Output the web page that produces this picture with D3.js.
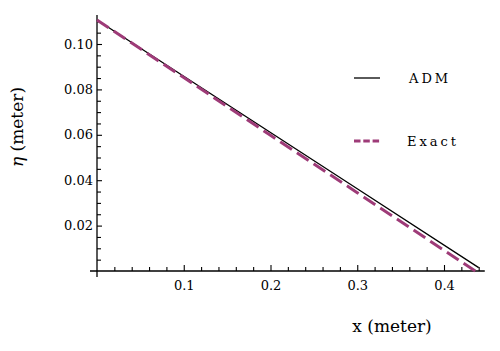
<!DOCTYPE html>
<html>
<head>
<meta charset="utf-8">
<script src="https://cdn.jsdelivr.net/npm/d3@7"></script>
<style>
  body { margin: 0; background: #fff; }
</style>
</head>
<body>
<div id="chart"></div>
<script>
// values
const admX = [0, 0.1, 0.2, 0.3, 0.44];
const admY = [0.1106, 0.0858, 0.061, 0.0362, 0.0015];
const exactX = [0, 0.1, 0.2, 0.3, 0.436];
const exactY = [0.1106, 0.0852, 0.0598, 0.0345, 0.0];
const xTicks = [0.1, 0.2, 0.3, 0.4];
const yTicks = [0.02, 0.04, 0.06, 0.08, 0.1];
const seriesNames = ["ADM", "Exact"];

// only DejaVu Serif shows up as a serif face in this renderer
const serif = "DejaVu Serif";
const width = 500, height = 351;
const svg = d3.select("#chart").append("svg")
  .attr("width", width)
  .attr("height", height)
  .attr("font-family", serif);

const x = d3.scaleLinear().domain([0, 0.4]).range([97, 444]);
const y = d3.scaleLinear().domain([0, 0.1]).range([271, 44]);

// axis lines
svg.append("line")
  .attr("x1", x(0) - 7).attr("x2", x(0.447))
  .attr("y1", y(0)).attr("y2", y(0))
  .attr("stroke", "#000").attr("stroke-width", 1.3);
svg.append("line")
  .attr("x1", x(0)).attr("x2", x(0))
  .attr("y1", y(0.1128)).attr("y2", y(0) + 6)
  .attr("stroke", "#000").attr("stroke-width", 1.3);

// x axis
svg.append("g")
  .attr("transform", `translate(0,${y(0)})`)
  .call(d3.axisBottom(x).tickValues(xTicks).tickSizeInner(-6).tickSizeOuter(0)
    .tickPadding(10).tickFormat(d3.format(".1f")));
svg.append("g")
  .attr("transform", `translate(0,${y(0)})`)
  .call(d3.axisBottom(x)
    .tickValues(d3.range(1, 23).map((i) => i * 0.02).filter((v, i) => (i + 1) % 5 !== 0))
    .tickSizeInner(-4).tickSizeOuter(0).tickFormat(""));

// y axis
svg.append("g")
  .attr("transform", `translate(${x(0)},0)`)
  .call(d3.axisLeft(y).tickValues(yTicks).tickSizeInner(-5).tickSizeOuter(0)
    .tickPadding(4).tickFormat(d3.format(".2f")));
svg.append("g")
  .attr("transform", `translate(${x(0)},0)`)
  .call(d3.axisLeft(y)
    .tickValues(d3.range(1, 23).map((i) => i * 0.005).filter((v, i) => (i + 1) % 4 !== 0))
    .tickSizeInner(-4).tickSizeOuter(0).tickFormat(""));

svg.selectAll(".domain").remove();
svg.selectAll("g").attr("font-family", serif).attr("font-size", 13);
svg.selectAll(".tick line").attr("stroke", "#000").attr("stroke-width", 1.1);
svg.selectAll(".tick text").attr("fill", "#000");

// lines
const line = d3.line().x((d) => x(d[0])).y((d) => y(d[1]));

svg.append("path")
  .datum(d3.zip(admX, admY))
  .attr("fill", "none")
  .attr("stroke", "#000")
  .attr("stroke-width", 1.3)
  .attr("d", line);

svg.append("path")
  .datum(d3.zip(exactX, exactY))
  .attr("fill", "none")
  .attr("stroke", "#9e3b78")
  .attr("stroke-width", 3)
  .attr("stroke-dasharray", "14,6")
  .attr("d", line);

// legend
const legendStyles = [
  { stroke: "#000", w: 1.3, dash: null, y: 78, tx: 409 },
  { stroke: "#9e3b78", w: 3, dash: "6.5,2.8", y: 141, tx: 407 },
];
seriesNames.forEach((name, i) => {
  const s = legendStyles[i];
  svg.append("line")
    .attr("x1", 354).attr("x2", 380)
    .attr("y1", s.y).attr("y2", s.y)
    .attr("stroke", s.stroke)
    .attr("stroke-width", s.w)
    .attr("stroke-dasharray", s.dash);
  svg.append("text")
    .attr("x", s.tx)
    .attr("y", s.y + 5)
    .attr("font-size", 13)
    .attr("letter-spacing", 3)
    .text(name);
});

// axis titles
svg.append("text")
  .attr("x", 392)
  .attr("y", 332)
  .attr("text-anchor", "middle")
  .attr("font-size", 17)
  .text("x (meter)");

const yl = svg.append("text")
  .attr("transform", "translate(23,127) rotate(-90)")
  .attr("text-anchor", "middle")
  .attr("font-size", 17);
yl.append("tspan").attr("font-style", "italic").text("η");
yl.append("tspan").text(" (meter)");
</script>
</body>
</html>
